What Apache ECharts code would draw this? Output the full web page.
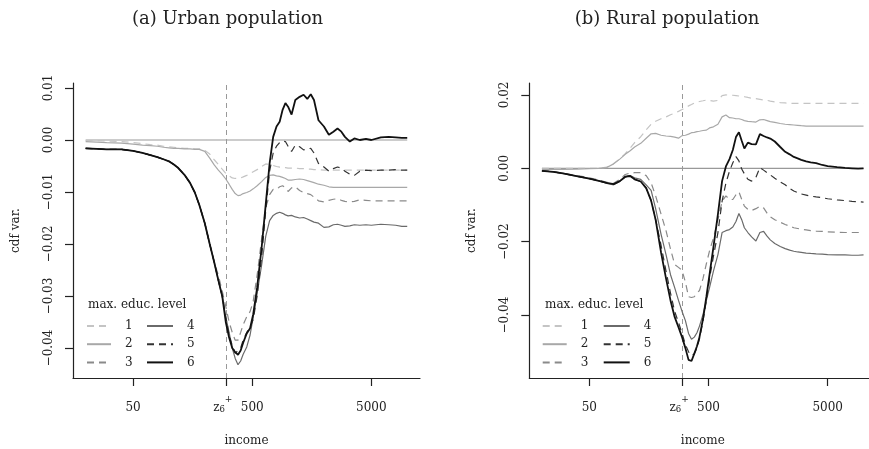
<!DOCTYPE html>
<html>
<head>
<meta charset="utf-8">
<script src="https://cdn.jsdelivr.net/npm/echarts@6/dist/echarts.min.js"></script>
<style>
html,body{margin:0;padding:0;background:#fff;}
#chart{width:869px;height:449px;}
</style>
</head>
<body>
<div id="chart"></div>
<script>
// ---------------- data ----------------
const income = [20, 25, 30, 40, 50, 60, 70, 80, 90, 100, 110, 120, 135, 150, 165, 180, 200, 220, 240, 260,
  280, 300, 320, 340, 360, 380, 400, 420, 450, 480, 510, 550, 600, 650, 700, 750, 800, 850, 900, 950,
  1000, 1070, 1150, 1250, 1350, 1450, 1550, 1650, 1800, 2000, 2200, 2400, 2600, 2800, 3000, 3300, 3600, 4000, 4500, 5000,
  6000, 7000, 8000, 9000, 10000];

const seriesNames = ['1', '2', '3', '4', '5', '6'];

// (a) Urban population
const urban1 = [-0.0001, -0.0001, -0.0002, -0.0003, -0.0005, -0.0007, -0.0009, -0.0010, -0.0012, -0.0013,
  -0.0014, -0.0015, -0.0016, -0.0016, -0.0017, -0.0017, -0.0020, -0.0027, -0.0038, -0.0047,
  -0.0056, -0.0064, -0.0069, -0.0073, -0.0074, -0.0074, -0.0073, -0.0071, -0.0068, -0.0065,
  -0.0061, -0.0057, -0.0051, -0.0046, -0.0047, -0.0049, -0.0051, -0.0052, -0.0052, -0.0053,
  -0.0054, -0.0054, -0.0054, -0.0055, -0.0055, -0.0056, -0.0056, -0.0057, -0.0057, -0.0058,
  -0.0058, -0.0058, -0.0058, -0.0058, -0.0058, -0.0058, -0.0058, -0.0058, -0.0058, -0.0058,
  -0.0058, -0.0058, -0.0058, -0.0058, -0.0058];
const urban2 = [-0.0003, -0.0004, -0.0005, -0.0006, -0.0008, -0.0010, -0.0011, -0.0012, -0.0014, -0.0015,
  -0.0016, -0.0016, -0.0017, -0.0017, -0.0018, -0.0018, -0.0022, -0.0035, -0.0048, -0.0058,
  -0.0066, -0.0075, -0.0085, -0.0095, -0.0103, -0.0107, -0.0106, -0.0103, -0.0101, -0.0098,
  -0.0094, -0.0088, -0.0080, -0.0072, -0.0068, -0.0067, -0.0069, -0.0070, -0.0072, -0.0074,
  -0.0077, -0.0077, -0.0076, -0.0075, -0.0076, -0.0078, -0.0080, -0.0082, -0.0085, -0.0087,
  -0.0090, -0.0091, -0.0091, -0.0091, -0.0091, -0.0091, -0.0091, -0.0091, -0.0091, -0.0091,
  -0.0091, -0.0091, -0.0091, -0.0091, -0.0091];
const urban3 = [-0.0016, -0.0017, -0.0018, -0.0018, -0.0021, -0.0025, -0.0029, -0.0033, -0.0037, -0.0041,
  -0.0047, -0.0054, -0.0067, -0.0082, -0.0101, -0.0125, -0.0160, -0.0200, -0.0235, -0.0260,
  -0.0290, -0.0320, -0.0350, -0.0370, -0.0385, -0.0385, -0.0370, -0.0355, -0.0340, -0.0330,
  -0.0310, -0.0260, -0.0190, -0.0130, -0.0105, -0.0095, -0.0095, -0.0090, -0.0088, -0.0092,
  -0.0099, -0.0092, -0.0090, -0.0097, -0.0101, -0.0103, -0.0105, -0.0110, -0.0117, -0.0119,
  -0.0116, -0.0114, -0.0113, -0.0116, -0.0118, -0.0119, -0.0118, -0.0115, -0.0116, -0.0117,
  -0.0117, -0.0117, -0.0117, -0.0117, -0.0117];
const urban4 = [-0.0016, -0.0017, -0.0018, -0.0018, -0.0021, -0.0025, -0.0029, -0.0033, -0.0037, -0.0041,
  -0.0047, -0.0054, -0.0067, -0.0082, -0.0101, -0.0125, -0.0160, -0.0200, -0.0235, -0.0270,
  -0.0300, -0.0340, -0.0370, -0.0400, -0.0420, -0.0432, -0.0425, -0.0412, -0.0398, -0.0375,
  -0.0340, -0.0295, -0.0240, -0.0185, -0.0155, -0.0145, -0.0141, -0.0139, -0.0141, -0.0144,
  -0.0146, -0.0145, -0.0148, -0.0150, -0.0149, -0.0152, -0.0155, -0.0158, -0.0160, -0.0168,
  -0.0167, -0.0163, -0.0162, -0.0164, -0.0166, -0.0165, -0.0163, -0.0164, -0.0163, -0.0164,
  -0.0162, -0.0163, -0.0164, -0.0166, -0.0166];
const urban5 = [-0.0016, -0.0017, -0.0018, -0.0018, -0.0021, -0.0025, -0.0029, -0.0033, -0.0037, -0.0041,
  -0.0047, -0.0054, -0.0067, -0.0082, -0.0101, -0.0125, -0.0160, -0.0200, -0.0235, -0.0270,
  -0.0300, -0.0340, -0.0375, -0.0395, -0.0410, -0.0405, -0.0400, -0.0385, -0.0370, -0.0360,
  -0.0345, -0.0300, -0.0225, -0.0135, -0.0060, -0.0025, -0.0012, -0.0005, -0.0002, -0.0003,
  -0.0012, -0.0022, -0.0010, -0.0013, -0.0019, -0.0017, -0.0016, -0.0025, -0.0045, -0.0052,
  -0.0060, -0.0055, -0.0052, -0.0054, -0.0060, -0.0066, -0.0068, -0.0060, -0.0058, -0.0059,
  -0.0058, -0.0058, -0.0057, -0.0058, -0.0058];
const urban6 = [-0.0016, -0.0017, -0.0018, -0.0018, -0.0021, -0.0025, -0.0029, -0.0033, -0.0037, -0.0041,
  -0.0047, -0.0054, -0.0067, -0.0082, -0.0101, -0.0125, -0.0160, -0.0200, -0.0235, -0.0270,
  -0.0300, -0.0350, -0.0380, -0.0400, -0.0408, -0.0413, -0.0405, -0.0390, -0.0372, -0.0362,
  -0.0335, -0.0284, -0.0207, -0.0123, -0.0045, 0.0006, 0.0026, 0.0035, 0.0058, 0.0071,
  0.0064, 0.0049, 0.0077, 0.0083, 0.0087, 0.0079, 0.0088, 0.0077, 0.0038, 0.0026,
  0.0010, 0.0016, 0.0022, 0.0016, 0.0006, -0.0003, 0.0003, 0.0000, 0.0002, 0.0000,
  0.0005, 0.0006, 0.0005, 0.0004, 0.0004];

// (b) Rural population
const rural1 = [0.0000, 0.0000, 0.0000, 0.0000, 0.0000, 0.0000, 0.0003, 0.0013, 0.0026, 0.0040,
  0.0055, 0.0070, 0.0086, 0.0105, 0.0120, 0.0128, 0.0135, 0.0140, 0.0146, 0.0150,
  0.0155, 0.0160, 0.0165, 0.0170, 0.0174, 0.0178, 0.0180, 0.0182, 0.0184, 0.0186,
  0.0185, 0.0183, 0.0185, 0.0198, 0.0200, 0.0199, 0.0199, 0.0198, 0.0197, 0.0196,
  0.0195, 0.0193, 0.0191, 0.0190, 0.0188, 0.0186, 0.0185, 0.0183, 0.0181, 0.0179,
  0.0178, 0.0177, 0.0177, 0.0177, 0.0177, 0.0177, 0.0177, 0.0177, 0.0177, 0.0177,
  0.0177, 0.0177, 0.0177, 0.0177, 0.0177];
const rural2 = [-0.0003, -0.0003, -0.0003, -0.0002, -0.0001, 0.0000, 0.0002, 0.0012, 0.0025, 0.0038,
  0.0048, 0.0058, 0.0068, 0.0082, 0.0094, 0.0095, 0.0090, 0.0088, 0.0087, 0.0085,
  0.0082, 0.0089, 0.0090, 0.0093, 0.0097, 0.0098, 0.0100, 0.0101, 0.0103, 0.0104,
  0.0110, 0.0113, 0.0120, 0.0140, 0.0145, 0.0138, 0.0137, 0.0135, 0.0135, 0.0133,
  0.0130, 0.0128, 0.0127, 0.0126, 0.0132, 0.0133, 0.0130, 0.0127, 0.0125, 0.0122,
  0.0120, 0.0119, 0.0118, 0.0117, 0.0116, 0.0115, 0.0115, 0.0115, 0.0115, 0.0115,
  0.0115, 0.0115, 0.0115, 0.0115, 0.0115];
const rural3 = [-0.0006, -0.0009, -0.0013, -0.0020, -0.0026, -0.0032, -0.0038, -0.0041, -0.0030, -0.0017,
  -0.0013, -0.0012, -0.0012, -0.0020, -0.0040, -0.0075, -0.0125, -0.0170, -0.0220, -0.0262,
  -0.0270, -0.0278, -0.0310, -0.0350, -0.0352, -0.0350, -0.0340, -0.0333, -0.0300, -0.0260,
  -0.0225, -0.0190, -0.0140, -0.0090, -0.0075, -0.0085, -0.0085, -0.0072, -0.0064, -0.0085,
  -0.0103, -0.0112, -0.0115, -0.0110, -0.0103, -0.0108, -0.0122, -0.0132, -0.0140, -0.0147,
  -0.0153, -0.0158, -0.0162, -0.0164, -0.0166, -0.0168, -0.0170, -0.0171, -0.0172, -0.0173,
  -0.0174, -0.0175, -0.0175, -0.0175, -0.0175];
const rural4 = [-0.0007, -0.0010, -0.0014, -0.0022, -0.0028, -0.0034, -0.0041, -0.0045, -0.0036, -0.0024,
  -0.0020, -0.0026, -0.0030, -0.0045, -0.0060, -0.0110, -0.0180, -0.0235, -0.0290, -0.0325,
  -0.0360, -0.0390, -0.0415, -0.0450, -0.0466, -0.0460, -0.0448, -0.0430, -0.0398, -0.0360,
  -0.0325, -0.0280, -0.0235, -0.0175, -0.0170, -0.0167, -0.0160, -0.0145, -0.0123, -0.0140,
  -0.0162, -0.0175, -0.0187, -0.0198, -0.0175, -0.0172, -0.0185, -0.0195, -0.0205, -0.0213,
  -0.0219, -0.0223, -0.0226, -0.0228, -0.0229, -0.0231, -0.0232, -0.0233, -0.0234, -0.0235,
  -0.0236, -0.0236, -0.0237, -0.0237, -0.0236];
const rural5 = [-0.0007, -0.0010, -0.0014, -0.0022, -0.0028, -0.0034, -0.0040, -0.0043, -0.0035, -0.0023,
  -0.0021, -0.0030, -0.0036, -0.0054, -0.0088, -0.0140, -0.0210, -0.0280, -0.0340, -0.0390,
  -0.0420, -0.0450, -0.0480, -0.0500, -0.0510, -0.0505, -0.0490, -0.0465, -0.0415, -0.0360,
  -0.0300, -0.0240, -0.0175, -0.0090, -0.0040, -0.0008, 0.0015, 0.0032, 0.0020, -0.0002,
  -0.0015, -0.0030, -0.0035, -0.0025, 0.0002, -0.0005, -0.0012, -0.0018, -0.0027, -0.0037,
  -0.0045, -0.0055, -0.0062, -0.0066, -0.0070, -0.0073, -0.0076, -0.0078, -0.0080, -0.0083,
  -0.0086, -0.0088, -0.0090, -0.0091, -0.0092];
const rural6 = [-0.0007, -0.0010, -0.0014, -0.0022, -0.0028, -0.0034, -0.0040, -0.0043, -0.0035, -0.0023,
  -0.0021, -0.0030, -0.0036, -0.0054, -0.0088, -0.0140, -0.0230, -0.0300, -0.0360, -0.0405,
  -0.0433, -0.0460, -0.0490, -0.0522, -0.0525, -0.0505, -0.0485, -0.0460, -0.0410, -0.0350,
  -0.0290, -0.0215, -0.0125, -0.0035, 0.0005, 0.0025, 0.0050, 0.0085, 0.0098, 0.0075,
  0.0054, 0.0070, 0.0066, 0.0065, 0.0093, 0.0088, 0.0084, 0.0081, 0.0073, 0.0058,
  0.0045, 0.0038, 0.0031, 0.0027, 0.0023, 0.0019, 0.0016, 0.0014, 0.0009, 0.0006,
  0.0003, 0.0001, 0.0000, -0.0001, 0.0000];

const zeroLine = [[20, 0], [10000, 0]];
const zStar = 300;                       // z6+ threshold
const xTickValues = [50, 300, 500, 5000];
const xTickLabels = ['50', '{z|z}{sb|6}{sp|+}', '500', '5000'];
const urbanYTicks = [-0.04, -0.03, -0.02, -0.01, 0, 0.01];
const ruralYTicks = [-0.04, -0.02, 0, 0.02];
const titles = ['(a) Urban population', '(b) Rural population'];
const legendTitle = 'max. educ. level';

// ---------------- styles ----------------
const FONT = '"DejaVu Serif", "Liberation Serif", serif';
const TXT = '#222';
const styles = [
  { color: '#c4c4c4', type: [7, 5], width: 1.2 },
  { color: '#a8a8a8', type: 'solid', width: 1.2 },
  { color: '#8a8a8a', type: [7, 5], width: 1.2 },
  { color: '#6a6a6a', type: 'solid', width: 1.2 },
  { color: '#333333', type: [7, 5], width: 1.2 },
  { color: '#111111', type: 'solid', width: 1.8 }
];
const L = v => Math.log10(v);
const X_MIN = L(15.67), X_MAX = L(12800);

function xAxisFor(gi) {
  return {
    type: 'value', gridIndex: gi, min: X_MIN, max: X_MAX,
    name: 'income', nameLocation: 'middle', nameGap: 57,
    nameTextStyle: { fontFamily: FONT, fontSize: 12, color: TXT },
    axisLine: { show: true, onZero: false, lineStyle: { color: TXT, width: 1.2 } },
    axisTick: { show: true, customValues: xTickValues.map(L), length: 8, lineStyle: { color: TXT, width: 1.2 } },
    splitLine: { show: false },
    axisLabel: {
      customValues: xTickValues.map(L), margin: 17.5, lineHeight: 24,
      fontFamily: FONT, fontSize: 12, color: TXT,
      formatter: v => {
        for (let i = 0; i < xTickValues.length; i++) if (Math.abs(L(xTickValues[i]) - v) < 1e-6) return xTickLabels[i];
        return '';
      },
      rich: {
        z: { fontFamily: FONT, fontSize: 12, color: TXT, lineHeight: 24, verticalAlign: 'middle' },
        sb: { fontFamily: FONT, fontSize: 8.5, color: TXT, verticalAlign: 'middle', padding: [4, 0, 0, 0] },
        sp: { fontFamily: FONT, fontSize: 9, color: TXT, verticalAlign: 'top', padding: [0, 6, 0, 0] }
      }
    }
  };
}
function yAxisFor(gi, min, max, ticks) {
  return {
    type: 'value', gridIndex: gi, min: min, max: max,
    name: 'cdf var.', nameLocation: 'middle', nameGap: 51,
    nameTextStyle: { fontFamily: FONT, fontSize: 12, color: TXT },
    axisLine: { show: true, onZero: false, lineStyle: { color: TXT, width: 1.2 } },
    axisTick: { show: true, customValues: ticks, length: 8, lineStyle: { color: TXT, width: 1.2 } },
    splitLine: { show: false },
    axisLabel: {
      customValues: ticks, rotate: 90, margin: 18,
      fontFamily: FONT, fontSize: 12, color: TXT,
      formatter: v => (v < -1e-9 ? '\u2212' : '') + Math.abs(v).toFixed(2)
    }
  };
}

function panelSeries(gi, arrays) {
  const out = [{
    name: 'zero', type: 'line', xAxisIndex: gi, yAxisIndex: gi, symbol: 'none', silent: true,
    data: zeroLine.map(p => [L(p[0]), p[1]]),
    lineStyle: { color: '#999', width: 1.2 },
    markLine: {
      silent: true, symbol: 'none', label: { show: false },
      lineStyle: { color: '#999', type: [5, 4], width: 1 },
      data: [{ xAxis: L(zStar) }]
    }
  }];
  arrays.forEach((arr, i) => {
    out.push({
      name: seriesNames[i], type: 'line', xAxisIndex: gi, yAxisIndex: gi,
      symbol: 'none', showSymbol: false, silent: true,
      data: arr.map((y, k) => [L(income[k]), y]),
      lineStyle: styles[i], itemStyle: { color: styles[i].color }, z: 3 + i
    });
  });
  return out;
}

function legendFor(left, names, w) {
  return {
    orient: 'vertical', left: left, top: 319, padding: 0,
    itemWidth: w, itemHeight: 14, itemGap: 4.2, selectedMode: false,
    itemStyle: { opacity: 0 },
    data: names,
    textStyle: { fontFamily: FONT, fontSize: 12, color: TXT, padding: [0, 0, 0, 9], lineHeight: 14 }
  };
}

const chart = echarts.init(document.getElementById('chart'), null, { renderer: 'canvas' });
chart.setOption({
  animation: false,
  backgroundColor: '#fff',
  title: [
    { text: titles[0], left: 222.5, textAlign: 'center', top: 5, textStyle: { fontFamily: FONT, fontSize: 18, fontWeight: 'normal', color: TXT } },
    { text: titles[1], left: 662, textAlign: 'center', top: 5, textStyle: { fontFamily: FONT, fontSize: 18, fontWeight: 'normal', color: TXT } }
  ],
  grid: [
    { left: 73, top: 83, width: 347, height: 295, outerBoundsMode: 'none', containLabel: false },
    { left: 529.3, top: 83, width: 347, height: 295, outerBoundsMode: 'none', containLabel: false }
  ],
  xAxis: [xAxisFor(0), xAxisFor(1)],
  yAxis: [
    yAxisFor(0, -0.04577, 0.01096, urbanYTicks),
    yAxisFor(1, -0.05714, 0.02324, ruralYTicks)
  ],
  legend: [
    legendFor(86, ['1', '2', '3'], 24),
    legendFor(146, ['4', '5', '6'], 26),
    legendFor(541.7, ['1', '2', '3'], 24),
    legendFor(602.7, ['4', '5', '6'], 26)
  ],
  graphic: [
    { type: 'text', left: 88, top: 299, style: { text: legendTitle, font: '12px ' + FONT, fill: TXT } },
    { type: 'text', left: 545, top: 299, style: { text: legendTitle, font: '12px ' + FONT, fill: TXT } }
  ],
  series: panelSeries(0, [urban1, urban2, urban3, urban4, urban5, urban6])
    .concat(panelSeries(1, [rural1, rural2, rural3, rural4, rural5, rural6]))
});
</script>
</body>
</html>
